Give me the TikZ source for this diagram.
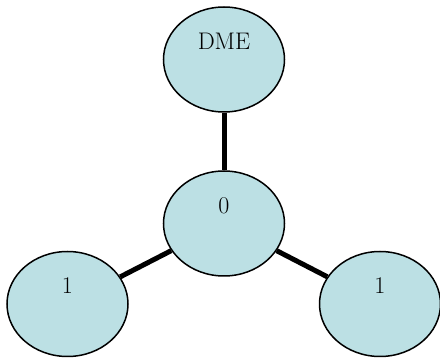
\documentclass[tikz,border=0pt]{standalone}
\usepackage{tikz}
\usetikzlibrary{
  positioning,
  shapes.geometric
}
\definecolor{atomfill}{HTML}{BCE0E4}

\begin{document}
\begin{tikzpicture}[
  x=1pt, y=1pt,
  atom/.style={ellipse, draw, line width=1.5pt, fill=atomfill, inner sep=0pt,
    minimum width=121pt, minimum height=105pt,
    text height=16pt, text depth=36pt, font=\fontsize{24}{28}\selectfont},
  bond/.style={line width=5pt},
]
  \useasboundingbox (0,0) rectangle (440,-358);

  \node[atom] (dme) at (224,-59.5) {DME};
  \node[atom] (zero) at (224,-223.5) {0};
  \node[atom] (left) at (67.5,-304) {1};
  \node[atom] (right) at (380,-304) {1};

  % Bonds
  \draw[bond] (dme) -- (zero);
  \draw[bond] (zero) -- (left);
  \draw[bond] (zero) -- (right);
\end{tikzpicture}
\end{document}
